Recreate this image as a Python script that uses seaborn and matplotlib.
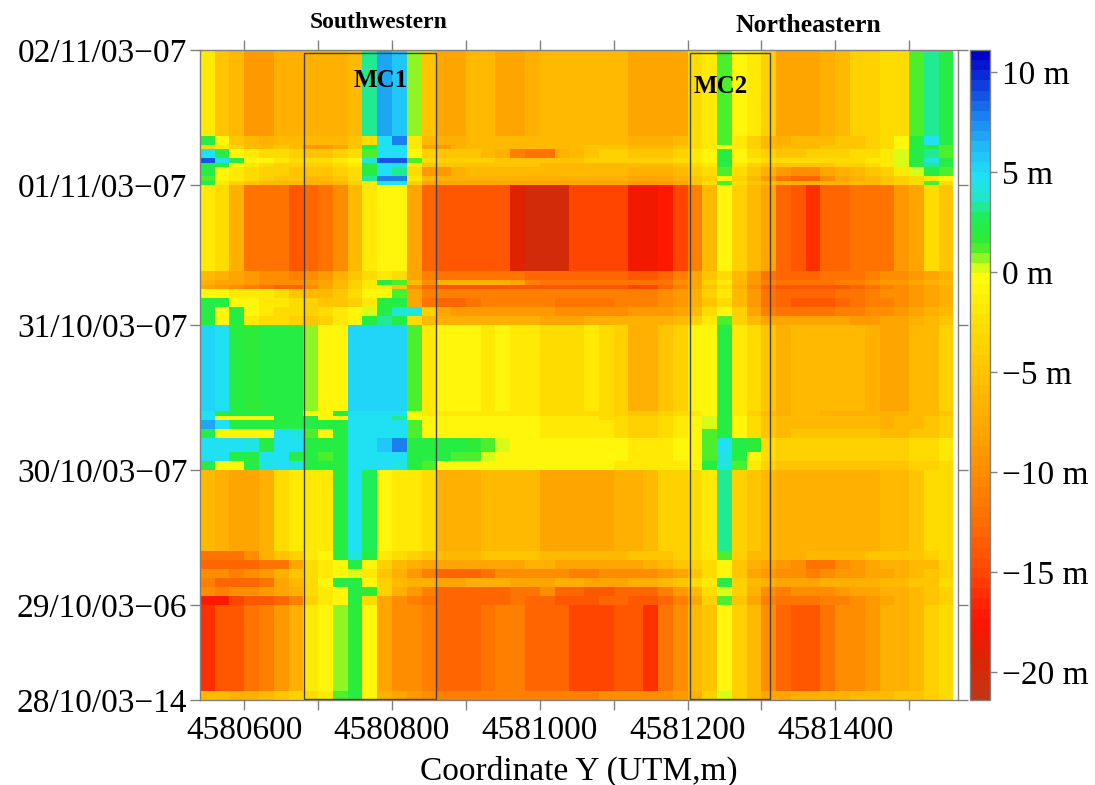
import numpy as np
import matplotlib
matplotlib.use("Agg")
import matplotlib.pyplot as plt
from matplotlib.colors import LinearSegmentedColormap
from matplotlib.patches import Rectangle
import seaborn as sns

plt.rcParams['font.family'] = ['Liberation Serif', 'DejaVu Serif']

# ---------------- data ----------------
x_start = 4580540          # left edge of first cell (UTM m)
x_step = 20                # cell width (m)

y_tick_rows = [0, 21, 51, 83, 114, 144]
y_tick_labels = ["28/10/03−14", "29/10/03−06", "30/10/03−07",
                 "31/10/03−07", "01/11/03−07", "02/11/03−07"]
x_ticks = [4580600, 4580700, 4580800, 4580900, 4581000, 4581100,
           4581200, 4581300, 4581400, 4581500]
x_tick_labels = ["4580600", "", "4580800", "", "4581000", "",
                 "4581200", "", "4581400", ""]
cbar_ticks = [-20, -15, -10, -5, 0, 5, 10]
cbar_labels = ["−20 m", "−15 m", "−10 m", "−5 m", "0 m", "5 m", "10 m"]
zone_names = ["MC1", "MC2"]
zone_x0 = [4580681, 4581203]
zone_x1 = [4580859, 4581311]
zone_rows = [0.2, 143.3]
region_names = ["Southwestern", "Northeastern"]

# block 1 : 28/10 14h -> 29/10 06h
b1_bottom = [-6,-6,-7,-7,-6,-5,-4,-3,-2,1, 2,-1,-7,-8,-9,-10,-11,-11,-11,-11,
             -11,-11,-11,-11,-11,-11,-11,-10,-10,-10, -10,-10,-9,-7,-4,0,-4,-6,-8,-8,
             -7,-7,-7,-7,-6,-6,-6,-5,-5,-4,-3]
b1_base = [-16,-14,-14,-12,-11,-9,-7,-2,-1,0.5, 1.5,-1,-8,-10,-10,-11,-13,-13,-13,-12,
           -11,-11,-13,-13,-13,-15,-15,-15,-14,-14, -16,-12,-10,-6,-5,-1,-4,-6,-10,-13,
           -14,-14,-12,-10,-10,-9,-7,-7,-6,-4,-3]
# block 2 : 29/10 -> 30/10
b2_t6 = [-17,-17,-15,-14,-14,-13,-11,-4,-2,-1, 2,-3,-8,-10,-11,-12,-13,-13,-13,-13,
         -13,-12,-13,-13,-14,-14,-14,-13,-13,-14, -14,-13,-11,-8,-4,1,-5,-8,-11,-12,
         -12,-12,-11,-11,-10,-9,-8,-7,-6,-5,-4]
b2_t5 = [-10,-11,-10,-10,-9,-8,-7,-3,-2,-1, 2,1.5,-4,-7,-9,-11,-13,-13,-13,-13,
         -13,-12,-12,-10,-13,-13,-14,-14,-13,-13, -13,-11,-9,-6,-3,0,-4,-7,-10,-11,
         -10,-10,-10,-9,-8,-8,-7,-7,-6,-5,-4]
b2_t4 = [-11,-13,-13,-13,-12,-8,-6,-3,-1,2, 2,-1,-4,-6,-7,-7,-8,-8,-7,-7,
         -7,-8,-8,-8,-7,-7,-8,-8,-8,-7, -7,-6,-5,-3,-2,2,-4,-6,-7,-8,
         -8,-8,-7,-7,-7,-7,-6,-6,-5,-5,-3]
b2_t3 = [-10,-10,-11,-10,-9,-7,-5,-3,-2,-1, 0,-2,-5,-7,-9,-11,-13,-13,-13,-12,
         -10,-10,-10,-10,-10,-11,-11,-10,-10,-10, -10,-9,-8,-5,-3,-1,-5,-8,-9,-10,
         -10,-11,-10,-9,-9,-8,-8,-7,-6,-5,-4]
b2_t2 = [-13,-13,-13,-13,-12,-12,-8,-3,-2,-1, 2,-1,-4,-6,-7,-8,-8,-8,-8,-8,
         -8,-8,-7,-7,-8,-8,-8,-8,-8,-8, -7,-6,-5,-4,-3,-1,-5,-7,-8,-9,
         -10,-12,-12,-10,-9,-8,-7,-7,-6,-6,-4]
b2_t1 = [-12,-12,-12,-10,-7,-5,-4,-2,-1,2, 4,2,-2,-3,-4,-5,-6,-6,-6,-5,
         -5,-5,-5,-6,-6,-6,-6,-6,-6,-5, -5,-5,-4,-3,-2,1,-4,-6,-6,-7,
         -7,-6,-6,-6,-6,-5,-5,-5,-5,-4,-3]
b2_base = [-6,-7,-8,-8,-7,-3,-2,-2,-2,2, 4.5,2.5,-1,-2,-2,-3,-7,-7,-7,-6,
           -6,-6,-6,-8,-8,-8,-8,-8,-7,-7, -6,-4,-4,-3,-2,3,-4,-5,-6,-7,
           -7,-7,-7,-7,-7,-7,-6,-6,-5,-3,-3]
# block 3 : 30/10 -> 31/10
b3_t7 = [2,-1,-1,2,4,5,4,2,2,2, 5,5,5,4,2,1,-1,-1,-1,-1,
         -1,-1,-1,-1,-1,-1,-1,-1,-2,-2, -2,-2,-2,-1,2,4,1,-2,-4,-5,
         -5,-5,-5,-5,-5,-5,-5,-5,-4,-4,-3]
b3_t6 = [5,5,2,2,5,5,2,2,1,2, 5,5,5,5,2,2,2,1,1,0,
         -1,-1,-1,-1,-1,-1,-1,-1,-1,-2, -2,-2,-1,-1,1,4,2,-1,-3,-4,
         -4,-4,-4,-4,-4,-4,-4,-4,-3,-3,-2]
b3_t5 = [5,5,5,4,2,5,5,2,2,2, 5,5,6,8,2,2,2,2,1.5,1,
         0,-1,-1,-1,-1,-1,-1,-1,-1,-2, -2,-2,-1,-1,1,5,2,1.5,-3,-4,
         -4,-4,-4,-4,-4,-4,-4,-4,-3,-3,-2]
b3_t4 = [2,-1,-1,-1,-1,5,4,1,-1,2, 5,5,5,5,1,-1,-1,-1,-1,-1,
         -1,-1,-1,-2,-2,-2,-2,-2,-3,-4, -4,-3,-2,-1,1,2,-1,-3,-5,-6,
         -5,-5,-5,-5,-5,-5,-6,-6,-5,-5,-4]
b3_t3 = [7,5,2,2,2,2,2,2,2,2, 5,5,5,5,1,-1,-1,-1,-1,-1,
         -1,-1,-1,-2,-2,-2,-2,-2,-3,-4, -4,-3,-2,-1,0,2,-1,-3,-5,-6,
         -6,-6,-6,-6,-6,-6,-7,-6,-6,-5,-4]
b3_t2 = [5,-1,-1,-1,-1,2,2,2,-1,-1, 5,5,5,3,-1,-1,-1,-1,-1,-1,
         -1,-1,-1,-2,-2,-2,-2,-3,-3,-4, -4,-3,-2,-1,0,2,-1,-3,-5,-6,
         -6,-6,-6,-6,-6,-6,-7,-6,-6,-5,-4]
b3_t1 = [5,2,2,2,2,2,2,-1,-1,2, 5,5,5,5,-1,-2,-2,-2,-2,-2,
         -2,-2,-2,-3,-3,-3,-3,-3,-4,-5, -5,-4,-3,-2,-1,2,-2,-4,-6,-7,
         -6,-6,-7,-7,-7,-7,-7,-7,-6,-6,-5]
b3_base = [5.5,5,2,1.5,2,2,2,0.5,-1,-1, 5.5,5.5,5.5,5.5,1,-2,-1,-1,-1,-2,
           -1,-2,-2,-3,-3,-3,-2,-3,-4,-7, -7,-5,-4,-1,-1,2,-2,-3,-5,-7,
           -6,-6,-6,-6,-6,-7,-8,-8,-6,-6,-4]
# block 4 : 31/10 -> 01/11
b4_t7 = [2,-1,2,-2,-3,-3,-4,-5,-4,-2, -1,2,3,2,-3,-6,-7,-7,-7,-7,
         -7,-7,-7,-8,-8,-8,-7,-7,-7,-7, -7,-7,-6,-4,-2,1,-4,-6,-8,-8,
         -8,-8,-8,-8,-9,-9,-8,-8,-7,-6,-5]
b4_t6 = [2,-1,2,-1,-2,-3,-3,-4,-3,-2, -1,0,2,4,4,-4,-8,-9,-9,-9,
         -9,-9,-9,-9,-10,-10,-10,-10,-10,-9, -9,-9,-8,-6,-3,-1,-4,-8,-11,-12,
         -12,-12,-12,-11,-11,-10,-10,-9,-8,-7,-6]
b4_t5 = [2,2,-1,-1,-2,-2,-3,-4,-5,-5, -4,-2,2,2,-8,-12,-13,-13,-12,-11,
         -11,-11,-11,-11,-12,-12,-12,-12,-11,-11, -11,-10,-9,-7,-5,-3,-6,-9,-12,-13,
         -14,-14,-14,-13,-12,-11,-11,-10,-9,-8,-7]
b4_t4 = [-1,-1,-2,-2,-2,-3,-5,-6,-6,-5, -3,-1,-1,1,-8,-11,-11,-11,-11,-11,
         -11,-11,-11,-11,-11,-11,-11,-11,-11,-11, -11,-10,-9,-7,-4,-2,-6,-9,-12,-13,
         -13,-13,-13,-12,-12,-11,-10,-10,-9,-8,-7]
b4_t3 = [-8,-9,-10,-11,-12,-13,-13,-10,-8,-6, -4,-2,-2,-5,-10,-13,-14,-14,-14,-14,
         -14,-14,-14,-14,-14,-14,-14,-14,-14,-15, -15,-13,-11,-8,-5,-3,-7,-10,-13,-14,
         -14,-14,-14,-14,-13,-12,-11,-10,-9,-8,-7]
b4_t2 = [-7,-8,-8,-9,-10,-10,-10,-9,-8,-6, -4,-2,2,1,-6,-10,-7,-7,-7,-7,
         -7,-8,-11,-12,-12,-12,-12,-12,-12,-12, -12,-12,-10,-8,-4,-2,-6,-9,-11,-12,
         -12,-12,-12,-11,-11,-10,-9,-9,-8,-7,-6]
b4_t1 = [-6,-7,-8,-9,-10,-10,-11,-10,-9,-7, -5,-3,-2,-3,-8,-11,-12,-12,-12,-12,
         -12,-12,-13,-13,-13,-13,-13,-13,-13,-14, -14,-13,-11,-8,-5,-3,-6,-9,-12,-13,
         -13,-13,-12,-12,-12,-11,-10,-10,-9,-8,-7]
b4_base = [-2,-3,-7,-12,-12,-12,-14,-13,-12,-10, -6,-2,-1,-1,-8,-13,-14,-14,-14,-14,
           -14,-19,-20,-20,-20,-15,-15,-15,-15,-18, -18,-17,-15,-11,-6,-1,-4,-6,-8,-13,
           -14,-16,-13,-13,-12,-12,-12,-9,-8,-3,-5]
# block 5 : 01/11 -> 02/11
b5_h = [2,-2,-4,-5,-6,-6,-6,-7,-7,-6, -4,-2,5,5,-4,-8,-8,-8,-8,-8,
        -8,-8,-8,-8,-8,-8,-8,-8,-8,-9, -9,-9,-8,-5,-3,1,-3,-5,-6,-7,
        -7,-7,-7,-7,-6,-6,-5,-4,-3,1,-3]
b5_g = [1,-1,-2,-3,-4,-5,-5,-6,-6,-5, -3,3,8,8,-2,-6,-7,-7,-7,-7,
        -7,-7,-7,-7,-7,-7,-7,-7,-7,-8, -8,-8,-7,-5,-4,-1,-4,-6,-9,-12,
        -13,-13,-10,-8,-7,-6,-5,-4,-3,-2,-1]
b5_f = [2,-1,-2,-3,-4,-4,-5,-5,-5,-4, -3,2,5,3,-3,-9,-9,-7,-6,-6,
        -6,-6,-6,-6,-6,-6,-6,-6,-6,-7, -7,-7,-6,-4,-3,1,-3,-5,-7,-9,
        -10,-10,-8,-7,-6,-5,-4,-2,0,2,1]
b5_e = [2,2,-1,-2,-3,-4,-4,-4,-4,-3, -2,2,5,4,-2,-5,-5,-5,-5,-5,
        -5,-5,-5,-6,-6,-6,-6,-6,-6,-6, -6,-6,-5,-3,-2,2,-2,-4,-5,-5,
        -5,-5,-5,-4,-4,-3,-2,0,2,3,2]
b5_d = [9,5,2,-1,-1,-2,-3,-3,-3,-2, -1,4,9,9,1,-3,-4,-4,-4,-4,
        -5,-5,-5,-5,-5,-5,-4,-4,-4,-4, -4,-4,-3,-2,-1,2,-1,-2,-3,-3,
        -3,-3,-3,-3,-3,-2,-2,0,2,4,2]
b5_c = [5,2,-1,-2,-3,-3,-4,-5,-5,-4, -3,1,5,5,-1,-4,-5,-5,-5,-6,
        -7,-11,-12,-12,-7,-6,-5,-4,-4,-5, -5,-5,-4,-2,-1,2,-1,-3,-4,-5,
        -5,-4,-4,-4,-3,-3,-2,0,2,3,1]
b5_b = [-3,-2,-4,-6,-6,-5,-6,-9,-9,-8, -5,2,5,5,-2,-8,-9,-7,-6,-6,
        -6,-6,-6,-6,-6,-6,-5,-5,-5,-6, -6,-6,-5,-3,-2,-1,-2,-4,-6,-6,
        -6,-6,-5,-5,-5,-4,-3,-1,2,2,1]
b5_a = [2,-1,-5,-6,-7,-6,-6,-6,-6,-6, -5,-3,5,8,-2,-6,-7,-7,-6,-6,
        -6,-6,-6,-6,-6,-6,-6,-6,-6,-7, -7,-7,-6,-3,-2,1,-2,-4,-6,-7,
        -6,-6,-6,-5,-5,-4,-3,-1,2,5,2]
b5_base = [-2,-5,-6,-9,-9,-7,-7,-7,-7,-7, -6,3,7,6,0.5,-5,-8,-8,-6,-6,
           -8,-8,-7,-6,-6,-6,-6,-6,-6,-8, -8,-8,-8,-3,-2,1,-1,-2,-4,-8,
           -8,-8,-7,-6,-4,-4,-3,-3,1,3,2]

# bands from bottom (oldest) to top: (profile, number of samples)
bands = [
    (b1_bottom, 2), (b1_base, 19),
    (b2_t6, 2), (b2_t5, 2), (b2_t4, 2), (b2_t3, 2), (b2_t2, 2), (b2_t1, 2), (b2_base, 18),
    (b3_t7, 2), (b3_t6, 2), (b3_t5, 3), (b3_t4, 2), (b3_t3, 2), (b3_t2, 1), (b3_t1, 1), (b3_base, 19),
    (b4_t7, 2), (b4_t6, 2), (b4_t5, 2), (b4_t4, 2), (b4_t3, 1), (b4_t2, 1), (b4_t1, 2), (b4_base, 19),
    (b5_h, 1), (b5_g, 1), (b5_f, 2), (b5_e, 1), (b5_d, 1), (b5_c, 2), (b5_b, 1), (b5_a, 2), (b5_base, 19),
]

for i, (p, n) in enumerate(bands):
    if len(p) != 51:
        raise ValueError(f"band {i} has {len(p)} values")

rows = []
for p, n in bands:
    rows.extend([p] * n)
mat = np.array(rows[::-1], dtype=float)   # row 0 = most recent (top)
n_rows, n_cols = mat.shape

# ---------------- colormap ----------------
vmin, vmax = -21.4, 11.1
anchors = [(-21.4, "#c43414"), (-19.5, "#dc2400"), (-17.5, "#ff1400"),
           (-15, "#ff4a00"), (-12.5, "#ff6e00"), (-10, "#ff8e00"),
           (-7.5, "#ffaa00"), (-5, "#ffc400"), (-2.5, "#ffe000"),
           (0, "#ffff10"), (0.6, "#a8f820"), (1.5, "#30ec30"),
           (2.8, "#20ee50"), (3.8, "#20e8c8"), (5, "#20e0f8"),
           (6.5, "#20b8f8"), (8, "#1a80f0"), (9.5, "#1040e0"), (11.1, "#0000c8")]
cmap = LinearSegmentedColormap.from_list(
    "elev", [((v - vmin) / (vmax - vmin), c) for v, c in anchors], N=64)

# ---------------- figure ----------------
fig = plt.figure(figsize=(10.95, 7.85), dpi=100)
ax = fig.add_axes([0.1826, 0.1083, 0.6922, 0.828])
cax = fig.add_axes([0.8858, 0.1083, 0.0183, 0.828])

sns.heatmap(mat, ax=ax, cbar_ax=cax, cmap=cmap, vmin=vmin, vmax=vmax,
            xticklabels=False, yticklabels=False)


def xc(v):
    return (v - x_start) / x_step


def yc(r):
    return n_rows - r


x_right = 4581566
ax.set_xlim(0, xc(x_right))
ax.set_ylim(n_rows, 0)

ax.set_xticks([xc(v) for v in x_ticks])
ax.set_xticklabels(x_tick_labels)
ax.set_yticks([yc(r) for r in y_tick_rows])
ax.set_yticklabels(y_tick_labels)
ax.tick_params(axis='both', direction='out', length=7, width=1, color='#808080',
               labelsize=24, top=True, right=True, labeltop=False, labelright=False)
ax.tick_params(axis='y', pad=2, rotation=0)
ax.tick_params(axis='x', pad=4, rotation=0)
for s in ax.spines.values():
    s.set_visible(True)
    s.set_color('#808080')
    s.set_linewidth(1)

ax.set_xlabel("Coordinate Y (UTM,m)", fontsize=24, labelpad=7)
ax.set_ylabel("")

# zone boxes
for name, x0, x1 in zip(zone_names, zone_x0, zone_x1):
    ax.add_patch(Rectangle((xc(x0), yc(zone_rows[1])), xc(x1) - xc(x0),
                           yc(zone_rows[0]) - yc(zone_rows[1]),
                           fill=False, edgecolor='#404040', lw=1))
ax.text(xc(4580785), yc(137.3), zone_names[0], fontsize=18, fontweight='bold',
        ha='center', va='center')
ax.text(xc(4581245), yc(136.0), zone_names[1], fontsize=18, fontweight='bold',
        ha='center', va='center')
ax.text(xc(4580782), 1.043, region_names[0], transform=ax.get_xaxis_transform(),
        fontsize=17, fontweight='bold', ha='center', va='center')
ax.text(xc(4581363), 1.038, region_names[1], transform=ax.get_xaxis_transform(),
        fontsize=18.5, fontweight='bold', ha='center', va='center')

# colorbar
cb = ax.collections[0].colorbar
cb.set_ticks(cbar_ticks)
cb.set_ticklabels(cbar_labels)
cax.tick_params(labelsize=24, length=5, width=1, color='#808080', pad=4)
cb.outline.set_edgecolor('#808080')
cb.outline.set_linewidth(1)

fig.savefig("out.png", dpi=100)
